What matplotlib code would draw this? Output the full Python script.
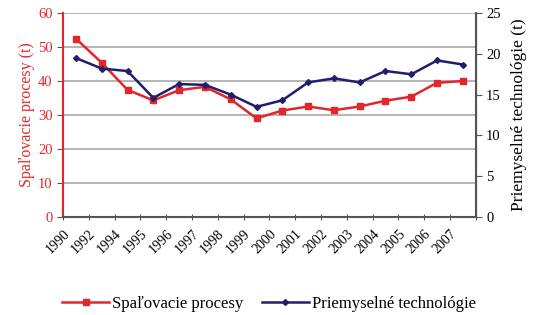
import matplotlib
matplotlib.use('Agg')
from matplotlib import pyplot as plt
import numpy as np

plt.rcParams['font.family'] = ['Liberation Serif', 'DejaVu Serif']

years = ['1990', '1992', '1994', '1995', '1996', '1997', '1998', '1999',
         '2000', '2001', '2002', '2003', '2004', '2005', '2006', '2007']
spalovacie = [52.5, 45.4, 37.4, 34.3, 37.3, 38.3, 34.6, 29.0,
              31.3, 32.5, 31.4, 32.5, 34.2, 35.4, 39.5, 40.0]
priemyselne = [19.5, 18.2, 17.9, 14.6, 16.3, 16.2, 15.0, 13.5,
               14.3, 16.5, 17.0, 16.5, 17.9, 17.5, 19.2, 18.7]

red = '#e3262b'
navy = '#1f1f6e'
x = np.arange(len(years))

fig = plt.figure(figsize=(5.34, 3.15), dpi=100)
ax = fig.add_axes([0.118, 0.312, 0.773, 0.646])
ax2 = ax.twinx()

l1, = ax.plot(x, spalovacie, color=red, lw=1.8, marker='s', ms=4,
              label='Spaľovacie procesy')
l2, = ax2.plot(x, priemyselne, color=navy, lw=1.8, marker='D', ms=3,
               label='Priemyselné technológie')

ax.set_xlim(-0.5, len(years) - 0.5)
ax.set_ylim(0, 60)
ax.set_yticks(range(0, 61, 10))
ax2.set_ylim(0, 25)
ax2.set_yticks(range(0, 26, 5))

ax.yaxis.grid(True, color='#a0a0a0', lw=1.1)
ax.set_axisbelow(True)

ax.set_xticks(np.arange(len(years) + 1) - 0.5)
ax.set_xticklabels(years + [''], rotation=45, ha='right',
                   rotation_mode='anchor', fontsize=10)
ax.tick_params(axis='x', direction='inout', length=5, color='#555555', pad=5)
ax.tick_params(axis='y', colors=red, labelsize=10.5, length=4, color='#555555')
ax2.tick_params(axis='y', labelsize=10.5, length=4, color='#555555')

for a in (ax, ax2):
    a.spines['top'].set_visible(False)
ax.spines['left'].set_color(red)
ax.spines['left'].set_linewidth(1.5)
ax.spines['bottom'].set_color('#555555')
ax.spines['bottom'].set_linewidth(1.5)
ax2.spines['left'].set_visible(False)
ax2.spines['bottom'].set_visible(False)
ax2.spines['right'].set_color('#555555')
ax2.spines['right'].set_linewidth(1.5)

ax.set_ylabel('Spaľovacie procesy (t)', color=red, fontsize=11.5, labelpad=2)
ax2.set_ylabel('Priemyselné technológie (t)', fontsize=12.5, labelpad=7)

fig.legend([l1, l2], [l1.get_label(), l2.get_label()], loc='center',
           bbox_to_anchor=(0.504, 0.035), ncol=2, frameon=False, fontsize=12,
           handlelength=2.8, columnspacing=1.1, handletextpad=0.2)

fig.savefig('out.png', dpi=100)
